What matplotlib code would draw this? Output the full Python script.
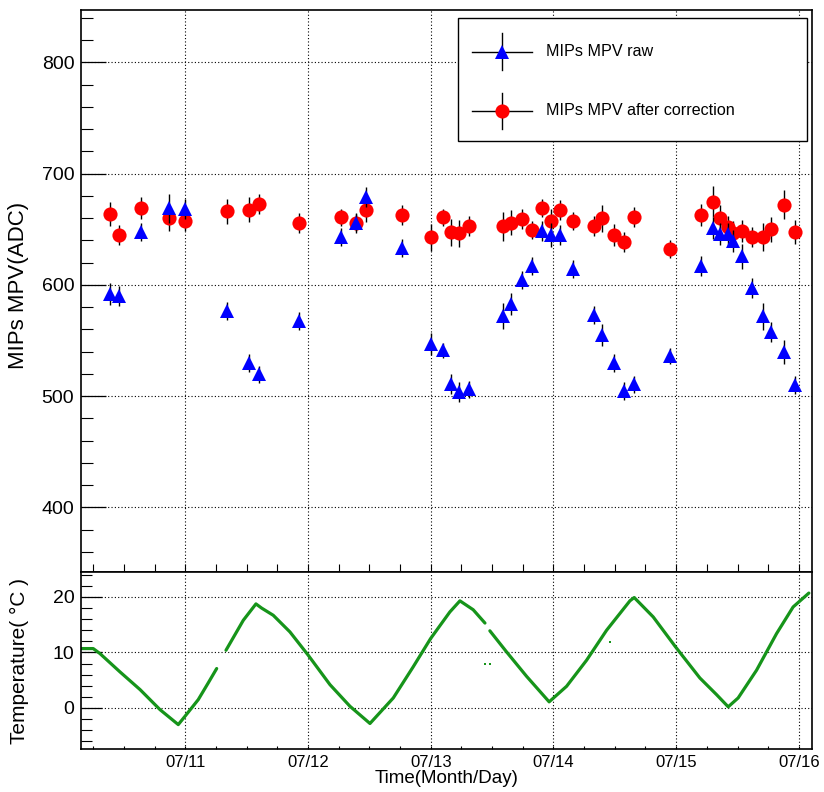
import numpy as np
import matplotlib
matplotlib.use('Agg')
import matplotlib.pyplot as plt
from matplotlib.ticker import MultipleLocator, FixedLocator
from matplotlib.patches import Rectangle
from matplotlib.lines import Line2D

plt.rcParams['font.family'] = ['Liberation Sans', 'DejaVu Sans']

# ---------------- data (time in days of July) ----------------
time_days = [10.385, 10.462, 10.639, 10.870, 11.000, 11.340, 11.521, 11.599, 11.929,
             12.268, 12.391, 12.472, 12.770, 13.003, 13.100, 13.165, 13.233, 13.310,
             13.592, 13.656, 13.741, 13.822, 13.906, 13.978, 14.053, 14.156, 14.330,
             14.397, 14.491, 14.574, 14.658, 14.949, 15.200, 15.301, 15.356, 15.419,
             15.464, 15.538, 15.619, 15.704, 15.769, 15.880, 15.967]

mpv_corr = [663.7, 644.4, 669.0, 660.0, 657.7, 666.0, 667.6, 672.7, 655.9,
            660.6, 656.0, 667.6, 662.5, 642.7, 660.6, 647.2, 646.3, 652.6,
            652.6, 655.9, 659.2, 649.5, 669.0, 657.0, 667.3, 657.7, 653.2,
            659.8, 644.7, 638.4, 660.6, 632.4, 662.5, 674.8, 660.0, 652.0,
            647.0, 648.4, 643.0, 643.0, 649.9, 672.0, 647.5]
mpv_corr_err = [11, 9, 10, 12, 9, 11, 11, 9, 9,
                8, 9, 11, 9, 12, 8, 12, 12, 9,
                13, 11, 9, 8, 8, 11, 9, 8, 9,
                12, 10, 9, 9, 8, 10, 14, 12, 10,
                10, 10, 9, 13, 11, 13, 11]

mpv_raw = [591.6, 590.0, 647.7, 669.0, 668.0, 576.6, 530.0, 519.5, 567.6,
           642.7, 656.0, 678.7, 633.0, 547.1, 541.2, 510.5, 503.9, 506.0,
           572.1, 582.6, 604.5, 617.1, 648.0, 645.0, 645.0, 614.1, 573.0,
           555.0, 529.5, 504.5, 510.5, 536.0, 616.9, 651.4, 645.4, 646.0,
           639.4, 625.6, 597.5, 571.7, 557.6, 539.6, 510.3]
mpv_raw_err = [10, 9, 8, 13, 9, 8, 8, 8, 8,
               8, 8, 9, 8, 10, 7, 9, 9, 8,
               12, 10, 8, 8, 9, 11, 9, 8, 8,
               10, 8, 8, 8, 7, 9, 10, 10, 10,
               10, 11, 9, 12, 9, 11, 8]

temp_time = [10.156, 10.250, 10.305, 10.468, 10.632, 10.794, 10.943, 10.998, 11.106,
             11.187, 11.256, np.nan,
             11.332, 11.473, 11.576, 11.622, 11.717, 11.853, 12.002, 12.179, 12.342,
             12.505, 12.695, 12.857, 12.999, 13.156, 13.238, 13.346, 13.442, np.nan,
             13.482, 13.618, 13.781, 13.965, 14.107, 14.270, 14.433, 14.623, 14.658,
             14.813, 14.995, 15.193, 15.329, 15.424, 15.505, 15.655, 15.818, 15.953,
             16.081]
temp_val = [10.7, 10.7, 9.8, 6.5, 3.3, -0.3, -3.0, -1.5, 1.5,
            4.5, 7.1, np.nan,
            10.4, 15.8, 18.75, 18.0, 16.7, 13.7, 9.5, 4.2, 0.3,
            -2.8, 1.8, 7.4, 12.5, 17.3, 19.3, 17.7, 15.3, np.nan,
            13.9, 10.1, 5.7, 1.1, 3.9, 8.6, 14.0, 19.3, 19.9,
            16.4, 11.0, 5.4, 2.4, 0.2, 1.8, 6.8, 13.4, 18.2,
            20.7]
stray_time = [13.44, 13.48, 14.46]
stray_val = [7.9, 7.9, 11.9]

day_ticks = [11, 12, 13, 14, 15, 16]
day_labels = ['07/11', '07/12', '07/13', '07/14', '07/15', '07/16']
mpv_ticks = [400, 500, 600, 700, 800]
temp_ticks = [0, 10, 20]

# ---------------- figure ----------------
W, H = 824, 792
fig = plt.figure(figsize=(W / 100, H / 100), dpi=100)
L, R = 81.3, 812.4
ax1 = fig.add_axes([L / W, 1 - 572 / H, (R - L) / W, (572 - 10) / H])
ax2 = fig.add_axes([L / W, 1 - 749 / H, (R - L) / W, (749 - 572) / H])

xlim = (10.153, 16.11)
grid_kw = dict(color='black', linestyle=(0, (1, 2)), linewidth=0.8)

for ax in (ax1, ax2):
    ax.set_xlim(*xlim)
    ax.xaxis.set_major_locator(FixedLocator(day_ticks))
    ax.xaxis.set_minor_locator(MultipleLocator(0.25))
    for s in ax.spines.values():
        s.set_linewidth(1.2)
    ax.grid(which='major', **grid_kw)
    ax.set_axisbelow(True)

MS = 10.2

# top panel
ax1.set_ylim(342, 847)
ax1.yaxis.set_major_locator(FixedLocator(mpv_ticks))
ax1.yaxis.set_minor_locator(MultipleLocator(20))
ax1.tick_params(axis='x', which='both', direction='in', length=5.8, width=0.8,
                labelbottom=False, top=False)
ax1.tick_params(axis='y', which='major', direction='in', length=18, width=0.9,
                labelsize=14, pad=5, right=False)
ax1.tick_params(axis='y', which='minor', direction='in', length=8.6, width=0.8, right=False)

ax1.errorbar(time_days, mpv_corr, yerr=mpv_corr_err, fmt='o', color='#ff0000',
             markersize=MS, markeredgewidth=0, ecolor='black', elinewidth=1,
             capsize=3, capthick=1, zorder=3)
ax1.errorbar(time_days, mpv_raw, yerr=mpv_raw_err, fmt='^', color='#0000ff',
             markersize=MS, markeredgewidth=0, ecolor='black', elinewidth=1,
             capsize=3, capthick=1, zorder=4)
ax1.set_ylabel('MIPs MPV(ADC)', fontsize=16)
ax1.yaxis.set_label_coords(-0.071, 0.51)

# legend (drawn manually, ROOT style)
tr = ax1.transAxes
ax1.add_patch(Rectangle((0.5157, 0.767), 1.0 - 0.5157 - 0.008, 0.218, transform=tr,
                        facecolor='white', edgecolor='black', linewidth=1.0, zorder=6))
for yy, mk, col, lab in [(0.9256, '^', '#0000ff', 'MIPs MPV raw'),
                         (0.8205, 'o', '#ff0000', 'MIPs MPV after correction')]:
    ax1.add_line(Line2D([0.575 - 0.041, 0.575 + 0.041], [yy, yy], transform=tr,
                        color='black', linewidth=1.0, zorder=7))
    ax1.add_line(Line2D([0.575, 0.575], [yy - 0.0327, yy + 0.0327], transform=tr,
                        color='black', linewidth=1.0, zorder=7))
    ax1.add_line(Line2D([0.575], [yy], transform=tr, marker=mk, color=col,
                        markersize=MS, markeredgewidth=0, linestyle='none', zorder=8))
    ax1.text(0.6358, yy, lab, transform=tr, fontsize=11.6, va='center', ha='left', zorder=8)

# bottom panel
ax2.set_ylim(-7.4, 24.5)
ax2.yaxis.set_major_locator(FixedLocator(temp_ticks))
ax2.yaxis.set_minor_locator(MultipleLocator(2))
ax2.tick_params(axis='x', which='both', direction='in', length=2.5, width=0.8,
                labelsize=12, pad=4, top=False)
ax2.tick_params(axis='y', which='major', direction='in', length=15, width=0.9,
                labelsize=14, pad=5, right=False)
ax2.tick_params(axis='y', which='minor', direction='in', length=8, width=0.8, right=False)
ax2.set_xticklabels(day_labels)

ax2.plot(temp_time, temp_val, color='#16941a', linewidth=2.3, solid_capstyle='round')
ax2.plot(stray_time, stray_val, linestyle='none', marker='s', markersize=2,
         color='#16941a', markeredgewidth=0)
ax2.set_ylabel('Temperature( °C )', fontsize=15)
ax2.yaxis.set_label_coords(-0.071, 0.5)
ax2.set_xlabel('Time(Month/Day)', fontsize=13.5)
ax2.xaxis.set_label_coords(0.5, -0.118)
ax2.xaxis.label.set_va('top')

fig.savefig('out.png', dpi=100)
